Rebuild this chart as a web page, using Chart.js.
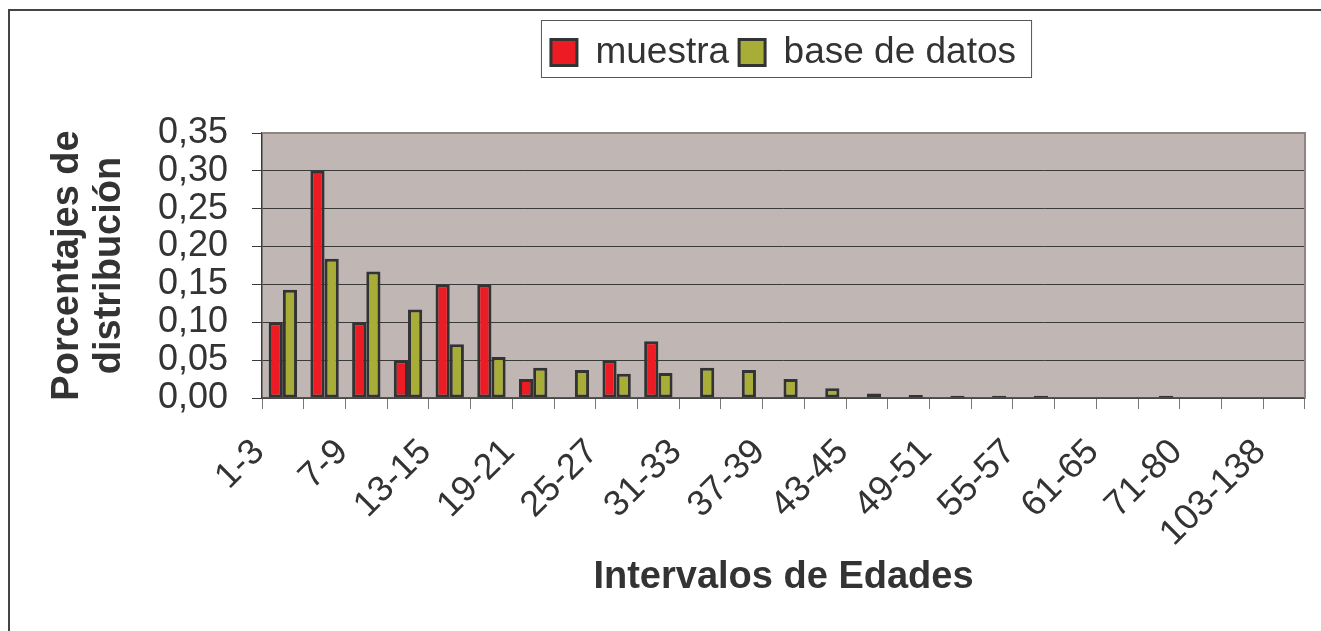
<!DOCTYPE html>
<html>
<head>
<meta charset="utf-8">
<script src="https://cdn.jsdelivr.net/npm/chart.js@4"></script>
<style>
    body { margin: 0; background: #fff; }
    #wrap { width: 1321px; height: 631px; position: relative; }
</style>
</head>
<body>
<div id="wrap"><canvas id="edades"></canvas></div>
<script>
const intervalos = ['1-3','4-6','7-9','10-12','13-15','16-18','19-21','22-24','25-27','28-30',
    '31-33','34-36','37-39','40-42','43-45','46-48','49-51','52-54','55-57','58-60',
    '61-65','66-70','71-80','81-102','103-138']
const muestra = [0.10,0.30,0.10,0.05,0.15,0.15,0.025,0,0.05,0.075,
    0,0,0,0,0,0,0,0,0,0,
    0,0,0,0,0]
const baseDatos = [0.143,0.184,0.167,0.117,0.071,0.054,0.040,0.037,0.032,0.033,
    0.040,0.037,0.025,0.013,0.006,0.004,0.003,0.003,0.003,0,
    0,0.003,0,0,0]
const yTicks = [0,0.05,0.10,0.15,0.20,0.25,0.30,0.35]

const TXT = '#333333'
const FONT = 'Liberation Sans, Arial, sans-serif'

// white page, outer frame, plot background
const fondo = {
    id: 'fondo',
    beforeDraw(chart) {
        const ctx = chart.ctx
        const a = chart.chartArea
        ctx.save()
        ctx.fillStyle = '#fff'
        ctx.fillRect(0, 0, chart.width, chart.height)
        ctx.strokeStyle = '#444'
        ctx.lineWidth = 2
        ctx.beginPath()
        ctx.moveTo(9, chart.height)
        ctx.lineTo(9, 10)
        ctx.lineTo(chart.width, 10)
        ctx.stroke()
        ctx.fillStyle = '#C0B6B3'
        ctx.fillRect(a.left, a.top, a.right - a.left, a.bottom - a.top)
        ctx.restore()
    },
    afterDraw(chart) {
        const ctx = chart.ctx
        const a = chart.chartArea
        ctx.save()
        // top / right plot border
        ctx.strokeStyle = '#8f8683'
        ctx.lineWidth = 2
        ctx.beginPath()
        ctx.moveTo(a.left, a.top)
        ctx.lineTo(a.right, a.top)
        ctx.lineTo(a.right, a.bottom)
        ctx.stroke()
        // box round the legend
        const hb = chart.legend.legendHitBoxes
        if (hb.length) {
            const last = hb[hb.length - 1]
            const l = hb[0].left - 10
            const r = last.left + last.width + 15
            const t = hb[0].top - 14
            ctx.strokeStyle = '#555'
            ctx.lineWidth = 1
            ctx.strokeRect(l + 0.5, t + 0.5, r - l, 57)
        }
        ctx.restore()
    }
}

new Chart(document.getElementById('edades'), {
    type: 'bar',
    data: {
        labels: intervalos,
        datasets: [{
            label: 'muestra',
            data: muestra,
            backgroundColor: '#ED1C24',
            borderColor: '#333',
            borderWidth: 3,
            borderSkipped: false
        }, {
            label: 'base de datos',
            data: baseDatos,
            backgroundColor: '#A8AD37',
            borderColor: '#333',
            borderWidth: 3,
            borderSkipped: false
        }]
    },
    options: {
        responsive: true,
        maintainAspectRatio: false,
        animation: false,
        categoryPercentage: 0.68,
        barPercentage: 1,
        layout: { padding: { top: 24, left: 0, right: 16, bottom: 0 } },
        plugins: {
            legend: {
                position: 'top',
                fullSize: false,
                labels: {
                    boxWidth: 26,
                    boxHeight: 26,
                    padding: 10,
                    color: TXT,
                    font: { family: FONT, size: 37 }
                }
            },
            // empty spacer between legend and plot
            subtitle: {
                display: true,
                text: '',
                weight: 0,
                font: { size: 10, lineHeight: 1 },
                padding: { top: 42, bottom: 0 }
            },
            tooltip: { enabled: false }
        },
        scales: {
            x: {
                offset: true,
                grid: { drawOnChartArea: false, drawTicks: true, tickLength: 11, color: '#777' },
                border: { color: '#555', width: 1.5 },
                ticks: {
                    autoSkip: false,
                    minRotation: 45,
                    maxRotation: 45,
                    padding: 22,
                    labelOffset: -24,
                    color: TXT,
                    font: { family: FONT, size: 36 },
                    callback: (v, i) => i % 2 === 0 ? intervalos[i] : ''
                },
                title: {
                    display: true,
                    text: 'Intervalos de Edades',
                    color: TXT,
                    font: { family: FONT, size: 38, weight: 'bold', lineHeight: 1.105 },
                    padding: { top: 0, bottom: 32 }
                },
                afterFit(scale) {
                    scale.height = 233
                    scale.paddingRight = 0
                }
            },
            y: {
                min: 0,
                max: 0.35,
                afterBuildTicks(scale) { scale.ticks = yTicks.map(v => ({ value: v })) },
                grid: { color: '#3a3a3a', lineWidth: 1, tickLength: 10 },
                border: { color: '#3a3a3a', width: 1.5 },
                ticks: {
                    autoSkip: false,
                    padding: 24,
                    color: TXT,
                    font: { family: FONT, size: 36 },
                    callback: v => v.toFixed(2).replace('.', ',')
                },
                title: {
                    display: true,
                    text: ['Porcentajes de', 'distribución'],
                    color: TXT,
                    font: { family: FONT, size: 38, weight: 'bold', lineHeight: 1.105 },
                    padding: { top: 47, bottom: 0 }
                },
                afterFit(scale) { scale.width = 262 }
            }
        }
    },
    plugins: [fondo]
})
</script>
</body>
</html>
